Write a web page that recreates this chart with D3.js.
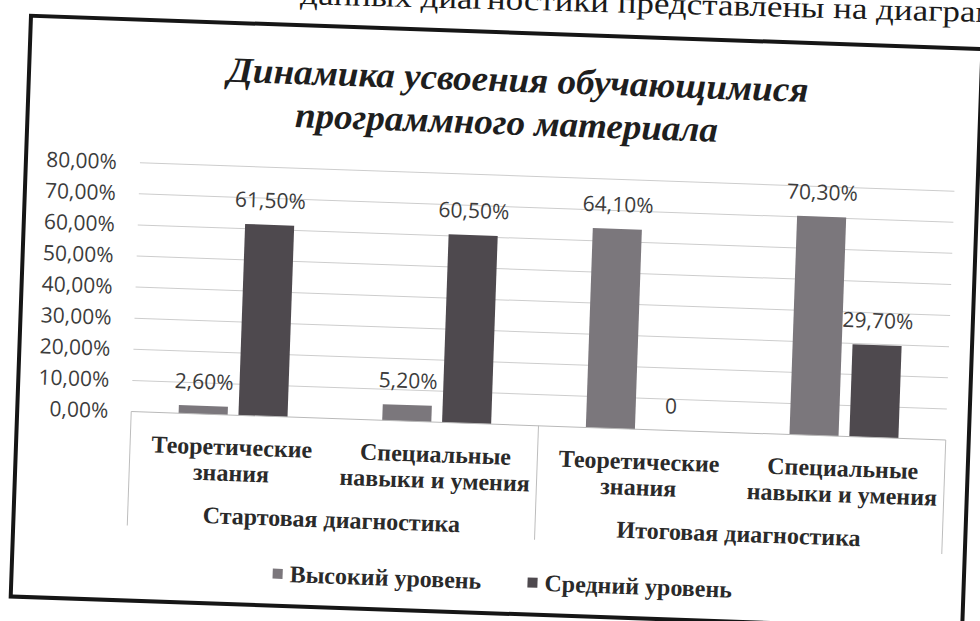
<!DOCTYPE html>
<html>
<head>
<meta charset="utf-8">
<script src="https://cdn.jsdelivr.net/npm/d3@7"></script>
<style>
  body { margin: 0; background: #fff; }
  svg { display: block; }
</style>
</head>
<body>
<div id="chart"></div>
<script>
// Data
const groups = ["Стартовая диагностика", "Итоговая диагностика"];
const categories = ["Теоретические\nзнания", "Специальные\nнавыки и умения", "Теоретические\nзнания", "Специальные\nнавыки и умения"];
const categoryGroup = [0, 0, 1, 1];
const series = ["Высокий уровень", "Средний уровень"];
const highLevel = [2.6, 5.2, 64.1, 70.3];
const midLevel = [61.5, 60.5, 0, 29.7];
const yTicks = [0, 10, 20, 30, 40, 50, 60, 70, 80];

const colors = {
  "Высокий уровень": "#7b777c",
  "Средний уровень": "#4e494e"
};

const width = 980;
const height = 621;
const serif = "'Liberation Serif', 'Times New Roman', serif";
const sans = "'Open Sans', 'Noto Sans', sans-serif";

const fmt = v => v === 0 ? "0" : v.toFixed(2).replace(".", ",") + "%";

const svg = d3.select("#chart")
  .append("svg")
  .attr("width", width)
  .attr("height", height);

svg.append("rect").attr("width", width).attr("height", height).attr("fill", "#fff");

// line of the page text above the chart, cut off by the scan
svg.append("text")
  .attr("x", 300)
  .attr("y", 13)
  .attr("transform", "rotate(1.5,640,13)")
  .attr("textLength", 735)
  .attr("lengthAdjust", "spacingAndGlyphs")
  .style("font-family", serif)
  .style("font-size", "30px")
  .attr("fill", "#1a1a1a")
  .text("данных диагностики представлены на диаграмме");

// the whole scanned chart is tilted a bit
const page = svg.append("g").attr("transform", "rotate(2,490,310)");

// frame
page.append("rect")
  .attr("x", 21)
  .attr("y", 32)
  .attr("width", 952)
  .attr("height", 581)
  .attr("fill", "none")
  .attr("stroke", "#161616")
  .attr("stroke-width", 4);

// title
const titleLines = ["Динамика усвоения обучающимися", "программного материала"];
const titleLen = [581, 423];
page.selectAll(".title")
  .data(titleLines)
  .enter()
  .append("text")
  .attr("class", "title")
  .attr("x", (d, i) => i === 0 ? 510 : 500)
  .attr("y", (d, i) => 91 + i * 43)
  .attr("text-anchor", "middle")
  .attr("textLength", (d, i) => titleLen[i])
  .attr("lengthAdjust", "spacingAndGlyphs")
  .style("font-family", serif)
  .style("font-size", "36px")
  .style("font-weight", "bold")
  .style("font-style", "italic")
  .attr("fill", "#1e1e1e")
  .text(d => d);

// scales
const x0 = d3.scaleBand()
  .domain(d3.range(categories.length))
  .range([135, 950]);

const x1 = d3.scaleBand()
  .domain(series)
  .range([x0.bandwidth() / 2 - 54.5, x0.bandwidth() / 2 + 54.5])
  .paddingInner(0.18);

const y = d3.scaleLinear()
  .domain([0, 80])
  .range([424, 175]);

// gridlines
page.append("g")
  .selectAll("line")
  .data(yTicks.filter(t => t > 0))
  .enter()
  .append("line")
  .attr("x1", x0.range()[0])
  .attr("x2", x0.range()[1])
  .attr("y1", d => y(d))
  .attr("y2", d => y(d))
  .attr("stroke", "#cdcdcd")
  .attr("stroke-width", 1);

// y axis labels
const yAxis = page.append("g")
  .attr("transform", `translate(${x0.range()[0]},0)`)
  .call(d3.axisLeft(y).tickValues(yTicks).tickSize(0).tickPadding(23).tickFormat(d => d.toFixed(2).replace(".", ",") + "%"));
yAxis.select(".domain").remove();
yAxis.selectAll("text")
  .style("font-family", sans)
  .style("font-size", "21px")
  .attr("fill", "#3c3c3c");

// bars
const rows = categories.map((c, i) => ({
  i: i,
  values: [
    { s: series[0], v: highLevel[i] },
    { s: series[1], v: midLevel[i] }
  ]
}));

const cat = page.append("g")
  .selectAll("g")
  .data(rows)
  .enter()
  .append("g")
  .attr("transform", d => `translate(${x0(d.i)},0)`);

cat.selectAll("rect")
  .data(d => d.values)
  .enter()
  .append("rect")
  .attr("x", d => x1(d.s))
  .attr("y", d => y(d.v))
  .attr("width", x1.bandwidth())
  .attr("height", d => y(0) - y(d.v))
  .attr("fill", d => colors[d.s]);

// data labels
cat.selectAll(".label")
  .data(d => d.values)
  .enter()
  .append("text")
  .attr("class", "label")
  .attr("x", d => x1(d.s) + x1.bandwidth() / 2)
  .attr("y", d => y(d.v) - 17)
  .attr("text-anchor", "middle")
  .style("font-family", sans)
  .style("font-size", "21px")
  .attr("fill", "#3c3c3c")
  .text(d => fmt(d.v));

// category axis box
const axisBottom = 538;
page.append("line")
  .attr("x1", x0.range()[0])
  .attr("x2", x0.range()[1])
  .attr("y1", y(0))
  .attr("y2", y(0))
  .attr("stroke", "#b9b9b9")
  .attr("stroke-width", 1);

const groupEdges = [0, 2, 4];
page.append("g")
  .selectAll("line")
  .data(groupEdges)
  .enter()
  .append("line")
  .attr("x1", d => x0.range()[0] + d * x0.step())
  .attr("x2", d => x0.range()[0] + d * x0.step())
  .attr("y1", y(0))
  .attr("y2", axisBottom)
  .attr("stroke", "#bdbdbd")
  .attr("stroke-width", 1);

// category labels
const catLabels = page.append("g")
  .selectAll("text")
  .data(categories)
  .enter()
  .append("text")
  .attr("text-anchor", "middle")
  .style("font-family", serif)
  .style("font-size", "24px")
  .style("font-weight", "bold")
  .attr("fill", "#2a2a2a");

catLabels.each(function(d, i) {
  const cx = x0(i) + x0.bandwidth() / 2;
  d3.select(this).selectAll("tspan")
    .data(d.split("\n"))
    .enter()
    .append("tspan")
    .attr("x", cx)
    .attr("y", (t, k) => 464 + k * 26)
    .text(t => t);
});

// group labels
page.append("g")
  .selectAll("text")
  .data(groups)
  .enter()
  .append("text")
  .attr("x", (d, g) => {
    const idx = categoryGroup.map((v, k) => v === g ? k : -1).filter(k => k >= 0);
    return (x0(idx[0]) + x0(idx[idx.length - 1]) + x0.bandwidth()) / 2;
  })
  .attr("y", 533)
  .attr("text-anchor", "middle")
  .style("font-family", serif)
  .style("font-size", "24px")
  .style("font-weight", "bold")
  .attr("fill", "#2a2a2a")
  .text(d => d);

// legend
const legendX = [282, 537];
const legend = page.append("g")
  .selectAll("g")
  .data(series)
  .enter()
  .append("g")
  .attr("transform", (d, i) => `translate(${legendX[i]},581)`);

legend.append("rect")
  .attr("x", 0)
  .attr("y", -5)
  .attr("width", 10)
  .attr("height", 10)
  .attr("fill", d => colors[d]);

legend.append("text")
  .attr("x", 17)
  .attr("y", 8)
  .style("font-family", serif)
  .style("font-size", "24px")
  .style("font-weight", "bold")
  .attr("fill", "#2a2a2a")
  .text(d => d);
</script>
</body>
</html>
